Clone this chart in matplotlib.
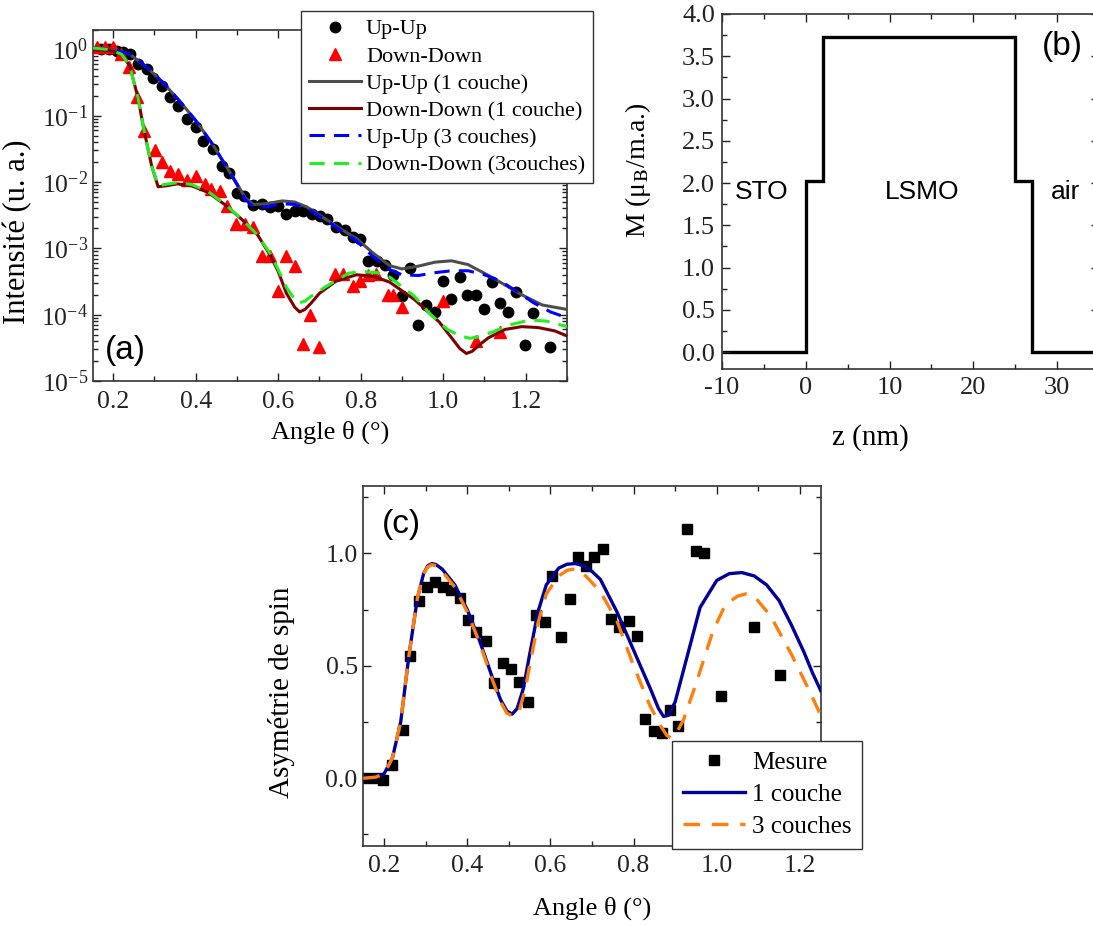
import matplotlib
matplotlib.use("Agg")
import matplotlib.pyplot as plt
from matplotlib.ticker import MultipleLocator, LogLocator, NullFormatter, FormatStrFormatter

plt.rcParams['font.family'] = ['Liberation Serif', 'DejaVu Serif']
plt.rcParams['mathtext.fontset'] = 'stix'
plt.rcParams['axes.unicode_minus'] = False
plt.rcParams['axes.linewidth'] = 1.2
plt.rcParams['axes.edgecolor'] = '#333333'

# ---- panel (a): reflectivity data ----
upup_x = [0.17, 0.19, 0.21, 0.225, 0.241, 0.261, 0.281, 0.297, 0.318, 0.338, 0.358, 0.380, 0.401,
          0.418, 0.441, 0.463, 0.481, 0.499, 0.517, 0.539, 0.560, 0.580, 0.600, 0.620, 0.640,
          0.660, 0.681, 0.701, 0.719, 0.741, 0.761, 0.781, 0.799, 0.818, 0.840, 0.858, 0.878,
          0.899, 0.919, 0.939, 0.959, 0.979, 0.999, 1.020, 1.040, 1.058, 1.079, 1.099, 1.119,
          1.138, 1.158, 1.177, 1.197, 1.217, 1.258]
upup_y = [1.0, 1.0, 0.95, 0.9, 0.85, 0.60, 0.51, 0.37, 0.28, 0.19, 0.14, 0.089, 0.067,
          0.042, 0.031, 0.0177, 0.0138, 0.0069, 0.0062, 0.0045, 0.0047, 0.0042, 0.0043, 0.0033, 0.0037,
          0.0036, 0.0033, 0.0031, 0.0028, 0.0021, 0.0019, 0.0015, 0.0014, 0.00065, 0.00065, 0.00056, 0.00039,
          0.00019, 0.00050, 7.1e-5, 0.00014, 0.00011, 0.00032, 0.00017, 0.00037, 0.00020, 0.00020, 0.00012, 0.00031,
          0.00015, 0.00011, 0.00022, 3.5e-5, 0.000105, 3.3e-5]

dd_x = [0.16, 0.18, 0.20, 0.22, 0.239, 0.259, 0.275, 0.301, 0.318, 0.338, 0.358, 0.380, 0.401,
        0.422, 0.436, 0.459, 0.475, 0.497, 0.519, 0.539, 0.560, 0.581, 0.600, 0.620, 0.640,
        0.660, 0.677, 0.699, 0.737, 0.757, 0.781, 0.799, 0.818, 0.838, 0.866, 0.878, 0.899,
        0.999, 1.079, 1.138]
dd_y = [1.1, 1.1, 1.1, 0.85, 0.55, 0.19, 0.058, 0.030, 0.020, 0.0148, 0.0132, 0.0109, 0.0122,
        0.0094, 0.0079, 0.0074, 0.0044, 0.0023, 0.0023, 0.0021, 0.00076, 0.00076, 0.00023, 0.00078, 0.00055,
        3.6e-5, 0.00010, 3.3e-5, 0.00041, 0.00041, 0.00027, 0.00032, 0.00039, 0.00041, 0.00020, 0.00020, 0.00013,
        0.00016, 4.0e-5, 5.5e-5]

fit1_uu_x = [0.15, 0.20, 0.24, 0.28, 0.32, 0.36, 0.40, 0.44, 0.48, 0.50, 0.52, 0.54, 0.57, 0.61,
             0.64, 0.67, 0.71, 0.75, 0.79, 0.83, 0.87, 0.90, 0.94, 0.98, 1.02, 1.06, 1.11, 1.15,
             1.19, 1.24, 1.30]
fit1_uu_y = [1.0, 0.98, 0.85, 0.55, 0.32, 0.17, 0.085, 0.038, 0.015, 0.0095, 0.0058, 0.0046, 0.0047, 0.0052,
             0.0050, 0.0042, 0.0029, 0.0020, 0.0014, 0.00085, 0.00055, 0.00049, 0.00054, 0.00062, 0.00065, 0.00057,
             0.00039, 0.00028, 0.00020, 0.00014, 0.00012]

fit1_dd_x = [0.15, 0.19, 0.22, 0.24, 0.26, 0.275, 0.293, 0.309, 0.33, 0.355, 0.39, 0.43, 0.47, 0.51,
             0.55, 0.58, 0.60, 0.62, 0.64, 0.652, 0.665, 0.68, 0.70, 0.74, 0.79, 0.83, 0.87, 0.93,
             0.99, 1.02, 1.04, 1.056, 1.07, 1.09, 1.11, 1.15, 1.19, 1.23, 1.27, 1.30]
fit1_dd_y = [1.0, 0.97, 0.85, 0.57, 0.19, 0.06, 0.018, 0.0085, 0.0088, 0.0094, 0.0088, 0.0070, 0.0046, 0.0028,
             0.0016, 0.0008, 0.00045, 0.00021, 0.00013, 0.00011, 0.00012, 0.00015, 0.00021, 0.00032, 0.00040,
             0.00038, 0.00031, 0.00017, 7.8e-5, 4.5e-5, 3.1e-5, 2.6e-5, 2.8e-5, 3.6e-5, 4.5e-5, 6.0e-5,
             6.6e-5, 6.4e-5, 5.7e-5, 4.8e-5]

fit3_uu_x = [0.15, 0.20, 0.24, 0.28, 0.32, 0.36, 0.40, 0.44, 0.48, 0.50, 0.52, 0.54, 0.57, 0.61,
             0.64, 0.67, 0.71, 0.75, 0.79, 0.83, 0.87, 0.90, 0.94, 0.98, 1.02, 1.06, 1.10, 1.14,
             1.18, 1.22, 1.26, 1.30]
fit3_uu_y = [1.05, 1.0, 0.85, 0.55, 0.32, 0.17, 0.085, 0.038, 0.015, 0.0092, 0.0055, 0.0042, 0.0042, 0.0047,
             0.0046, 0.0040, 0.0028, 0.0019, 0.0013, 0.00075, 0.00048, 0.00040, 0.00039, 0.00043, 0.00046, 0.00046,
             0.00040, 0.00032, 0.00022, 0.00015, 0.00011, 9.0e-5]

fit3_dd_x = [0.15, 0.19, 0.22, 0.24, 0.26, 0.275, 0.293, 0.309, 0.33, 0.355, 0.39, 0.43, 0.47, 0.51,
             0.55, 0.58, 0.60, 0.62, 0.64, 0.65, 0.665, 0.68, 0.70, 0.73, 0.77, 0.80, 0.84, 0.87,
             0.93, 0.97, 1.01, 1.04, 1.065, 1.09, 1.12, 1.16, 1.21, 1.25, 1.30]
fit3_dd_y = [1.05, 1.0, 0.85, 0.57, 0.19, 0.06, 0.018, 0.0088, 0.0093, 0.0098, 0.0092, 0.0072, 0.0047, 0.0028,
             0.0016, 0.00085, 0.00048, 0.00026, 0.00017, 0.00015, 0.00016, 0.00019, 0.00023, 0.00030, 0.00042,
             0.00045, 0.00043, 0.00037, 0.00019, 0.00010, 6.0e-5, 4.8e-5, 4.4e-5, 4.7e-5, 5.5e-5, 7.0e-5,
             8.3e-5, 8.0e-5, 6.6e-5]

# ---- panel (b): magnetisation profile ----
z_edges = [-10, 0, 2, 25, 27, 35]
m_profile = [0.0, 2.02, 3.73, 2.02, 0.0]

# ---- panel (c): spin asymmetry ----
asym_x = [0.158, 0.182, 0.198, 0.218, 0.245, 0.262, 0.283, 0.302, 0.323, 0.342, 0.362, 0.382,
          0.402, 0.422, 0.444, 0.464, 0.485, 0.506, 0.524, 0.546, 0.566, 0.586, 0.605, 0.626,
          0.646, 0.666, 0.686, 0.706, 0.726, 0.746, 0.766, 0.788, 0.808, 0.828, 0.848, 0.869,
          0.888, 0.908, 0.929, 0.950, 0.970, 1.010, 1.090, 1.152]
asym_y = [0.0, 0.003, -0.006, 0.058, 0.216, 0.543, 0.79, 0.849, 0.871, 0.852, 0.837, 0.802,
          0.704, 0.649, 0.609, 0.425, 0.512, 0.487, 0.427, 0.339, 0.728, 0.694, 0.901, 0.627,
          0.798, 0.985, 0.945, 0.982, 1.019, 0.709, 0.675, 0.701, 0.632, 0.265, 0.210, 0.201,
          0.302, 0.232, 1.108, 1.009, 1.0, 0.364, 0.672, 0.46]

asym1_x = [0.15, 0.18, 0.20, 0.22, 0.24, 0.26, 0.28, 0.295, 0.305, 0.315, 0.325, 0.34, 0.37, 0.40,
           0.43, 0.46, 0.48, 0.495, 0.508, 0.52, 0.535, 0.55, 0.57, 0.59, 0.62, 0.64, 0.66, 0.68,
           0.70, 0.72, 0.76, 0.80, 0.84, 0.86, 0.872, 0.884, 0.90, 0.93, 0.96, 1.00, 1.03, 1.06,
           1.09, 1.12, 1.15, 1.18, 1.21, 1.23, 1.25]
asym1_y = [0.0, 0.005, 0.02, 0.09, 0.25, 0.55, 0.80, 0.91, 0.945, 0.955, 0.95, 0.93, 0.86, 0.75,
           0.61, 0.45, 0.35, 0.30, 0.285, 0.31, 0.40, 0.55, 0.74, 0.86, 0.935, 0.952, 0.955, 0.945,
           0.92, 0.885, 0.74, 0.57, 0.40, 0.31, 0.275, 0.28, 0.34, 0.55, 0.76, 0.88, 0.91, 0.915,
           0.90, 0.86, 0.79, 0.68, 0.56, 0.47, 0.39]

asym3_x = [0.15, 0.18, 0.20, 0.22, 0.24, 0.26, 0.28, 0.295, 0.305, 0.315, 0.325, 0.34, 0.37, 0.40,
           0.43, 0.46, 0.48, 0.495, 0.51, 0.525, 0.54, 0.55, 0.57, 0.59, 0.62, 0.64, 0.655, 0.67,
           0.69, 0.72, 0.76, 0.80, 0.84, 0.866, 0.88, 0.89, 0.90, 0.92, 0.95, 0.99, 1.02, 1.05,
           1.07, 1.09, 1.13, 1.18, 1.22, 1.25]
asym3_y = [0.0, 0.005, 0.02, 0.09, 0.25, 0.55, 0.80, 0.91, 0.94, 0.95, 0.945, 0.92, 0.85, 0.74,
           0.60, 0.44, 0.34, 0.29, 0.275, 0.30, 0.40, 0.50, 0.69, 0.82, 0.90, 0.925, 0.93, 0.925,
           0.89, 0.83, 0.70, 0.50, 0.32, 0.23, 0.19, 0.18, 0.19, 0.26, 0.42, 0.65, 0.77, 0.81,
           0.82, 0.81, 0.72, 0.55, 0.40, 0.28]

W, H = 1093, 926
fig = plt.figure(figsize=(W / 100, H / 100), dpi=100)

SANS = 'Liberation Sans'


def style_ticks(ax, size, xpad, ypad):
    ax.tick_params(which='both', direction='in', top=True, right=True, labelsize=size,
                   colors='#222222')
    ax.tick_params(axis='x', which='major', pad=xpad)
    ax.tick_params(axis='y', which='major', pad=ypad)
    ax.tick_params(which='major', length=6, width=1.0)
    ax.tick_params(which='minor', length=3.5, width=1.0)


# ----- (a) -----
ax_a = fig.add_axes([92.5 / W, 1 - 381 / H, (567 - 92.5) / W, (381 - 29.5) / H])
ax_a.set_yscale('log')
ax_a.plot(upup_x, upup_y, 'o', color='black', ms=7.5, label='Up-Up', zorder=2)
ax_a.plot(dd_x, dd_y, '^', color='#ff0000', ms=8, label='Down-Down', zorder=2)
ax_a.plot(fit1_uu_x, fit1_uu_y, '-', color='#4d4d4d', lw=2.2, label='Up-Up (1 couche)', zorder=3)
ax_a.plot(fit1_dd_x, fit1_dd_y, '-', color='#7f0000', lw=2.2, label='Down-Down (1 couche)', zorder=3)
ax_a.plot(fit3_uu_x, fit3_uu_y, '--', color='#0000ff', lw=2.2, dashes=(5, 3),
          label='Up-Up (3 couches)', zorder=4)
ax_a.plot(fit3_dd_x, fit3_dd_y, '--', color='#22ee22', lw=2.2, dashes=(5, 3),
          label='Down-Down (3couches)', zorder=4)
ax_a.set_xlim(0.15, 1.3)
ax_a.set_ylim(1e-5, 2)
ax_a.xaxis.set_major_locator(MultipleLocator(0.2))
ax_a.xaxis.set_minor_locator(MultipleLocator(0.1))
ax_a.yaxis.set_major_locator(LogLocator(base=10, numticks=10))
ax_a.yaxis.set_minor_locator(LogLocator(base=10, subs=range(2, 10), numticks=20))
ax_a.yaxis.set_minor_formatter(NullFormatter())
style_ticks(ax_a, 18.5, 7, 3)
ax_a.set_xlabel('Angle θ (°)', fontsize=19, va='top')
ax_a.xaxis.set_label_coords(0.5, -0.112)
ax_a.set_ylabel('Intensité (u. a.)', fontsize=22)
ax_a.yaxis.set_label_coords(-0.127, 0.424)
ax_a.text(0.026, 0.088, '(a)', transform=ax_a.transAxes, fontsize=24, family=SANS,
          ha='left', va='center')
ax_a.legend(loc='upper left', bbox_to_anchor=(301 / W, 1 - 11 / H), bbox_transform=fig.transFigure,
            fontsize=16, frameon=True, fancybox=False, edgecolor='#333333', framealpha=1,
            labelspacing=0.3, handlelength=2.35, handletextpad=0.22, borderpad=0.35,
            borderaxespad=0)

# ----- (b) -----
ax_b = fig.add_axes([722 / W, 1 - 369 / H, (1099 - 722) / W, (369 - 14) / H])
ax_b.stairs(m_profile, z_edges, baseline=None, color='black', lw=2.4)
ax_b.set_xlim(-10, 35)
ax_b.set_ylim(-0.2, 4.0)
ax_b.xaxis.set_major_locator(MultipleLocator(10))
ax_b.xaxis.set_minor_locator(MultipleLocator(5))
ax_b.yaxis.set_major_locator(MultipleLocator(0.5))
ax_b.yaxis.set_minor_locator(MultipleLocator(0.25))
ax_b.yaxis.set_major_formatter(FormatStrFormatter('%.1f'))
style_ticks(ax_b, 19, 6, 5)
ax_b.set_xlabel('z (nm)', fontsize=21, va='top')
ax_b.xaxis.set_label_coords(0.393, -0.155)
ax_b.set_ylabel('M (μ$_{\\mathrm{B}}$/m.a.)', fontsize=20)
ax_b.yaxis.set_label_coords(-0.183, 0.56)
ax_b.text(-5.3, 1.89, 'STO', fontsize=19, family=SANS, ha='center', va='center')
ax_b.text(13.9, 1.89, 'LSMO', fontsize=19, family=SANS, ha='center', va='center')
ax_b.text(31.0, 1.89, 'air', fontsize=19, family=SANS, ha='center', va='center')
ax_b.text(28.2, 3.61, '(b)', fontsize=24, family=SANS, ha='left', va='center')

# ----- (c) -----
ax_c = fig.add_axes([363.3 / W, 1 - 845.7 / H, (820.7 - 363.3) / W, (845.7 - 486) / H])
ax_c.plot(asym_x, asym_y, 's', color='black', ms=7, label='Mesure', zorder=2)
ax_c.plot(asym1_x, asym1_y, '-', color='#000099', lw=2.4, label='1 couche', zorder=3)
ax_c.plot(asym3_x, asym3_y, '--', color='#ff7f0e', lw=2.4, dashes=(5, 3.5),
          label='3 couches', zorder=4)
ax_c.set_xlim(0.15, 1.25)
ax_c.set_ylim(-0.3, 1.3)
ax_c.xaxis.set_major_locator(MultipleLocator(0.2))
ax_c.xaxis.set_minor_locator(MultipleLocator(0.1))
ax_c.yaxis.set_major_locator(MultipleLocator(0.5))
ax_c.yaxis.set_minor_locator(MultipleLocator(0.25))
ax_c.yaxis.set_major_formatter(FormatStrFormatter('%.1f'))
style_ticks(ax_c, 18.5, 7, 4)
ax_c.set_xlabel('Angle θ (°)', fontsize=19, va='top')
ax_c.xaxis.set_label_coords(0.5, -0.142)
ax_c.set_ylabel('Asymétrie de spin', fontsize=21)
ax_c.yaxis.set_label_coords(-0.149, 0.427)
ax_c.text(0.041, 0.894, '(c)', transform=ax_c.transAxes, fontsize=24, family=SANS,
          ha='left', va='center')
ax_c.legend(loc='upper left', bbox_to_anchor=(672 / W, 1 - 741 / H), bbox_transform=fig.transFigure,
            fontsize=18, frameon=True, fancybox=False, edgecolor='#333333', framealpha=1,
            labelspacing=0.38, handlelength=2.5, handletextpad=0.28, borderpad=0.42,
            borderaxespad=0)

fig.savefig('out.png', dpi=100)
